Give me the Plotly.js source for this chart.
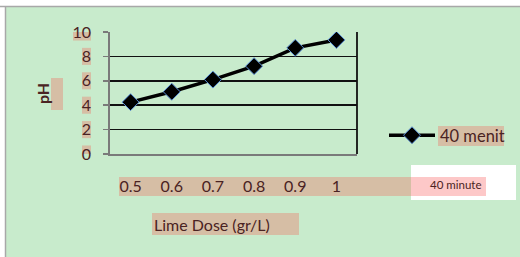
<!DOCTYPE html>
<html>
<head>
<meta charset="utf-8">
<script src="https://cdn.plot.ly/plotly-3.0.1.min.js"></script>
<style>html,body{margin:0;padding:0;background:#fff;}#chart{width:520px;height:257px;}</style>
</head>
<body>
<div id="chart"></div>
<script>
// ---- data ----
const limeDose = [0.5, 0.6, 0.7, 0.8, 0.9, 1];
const pH40 = [4.25, 5.1, 6.1, 7.2, 8.7, 9.35];
const seriesName = "40 menit";
const yTicks = [0, 2, 4, 6, 8, 10];
const xTitle = "Lime Dose (gr/L)";
const yTitle = "pH";
const boxNote = "40 minute";

// ---- geometry helpers (pixel -> paper) ----
const W = 520, H = 257;
const L = 110, R = 357, T = 32, B = 154;
const px = x => (x - L) / (R - L);
const py = y => (B - y) / (B - T);

const txt = "#4a2323";
const tan = "#d6bea5";
const green = "#c8ebcc";

const shapes = [];
function rect(x0, y0, x1, y1, fill, layer) {
  shapes.push({type: "rect", xref: "paper", yref: "paper", x0: px(x0), x1: px(x1), y0: py(y1), y1: py(y0),
    fillcolor: fill, line: {width: 0}, layer: layer || "below"});
}
// background frame
rect(6, 7, 520, 257, green);
shapes.push({type: "line", xref: "paper", yref: "paper", x0: px(0), x1: px(520), y0: py(6.5), y1: py(6.5), line: {color: "#a8a8a8", width: 1.5}, layer: "below"});
shapes.push({type: "line", xref: "paper", yref: "paper", x0: px(5.5), x1: px(5.5), y0: py(6.5), y1: py(257), line: {color: "#a8a8a8", width: 1.5}, layer: "below"});
// y tick label boxes
yTicks.forEach(v => {
  const wide = String(v).length > 1;
  shapes.push({type: "rect", xref: "paper", yref: "y", x0: px(wide ? 73 : 82), x1: px(91), y0: v - 0.7, y1: v + 0.7,
    fillcolor: tan, line: {width: 0}, layer: "below"});
});
// pH box
rect(51, 78, 63, 110, tan);
// x label band, white note box, pink overlap
rect(119, 177, 411, 196, tan);
rect(411, 165, 516, 200, "#ffffff");
rect(411, 177, 486, 196, "#fdc8c8");
// x title box
rect(152, 213, 299, 235, tan);
// legend text box
rect(438, 126, 504, 146, tan);
// right frame
shapes.push({type: "line", xref: "paper", yref: "paper", x0: 1, x1: 1, y0: 0, y1: 1, line: {color: "#111", width: 1.8}, layer: "above"});

const trace = {
  x: limeDose, y: pH40, name: seriesName, type: "scatter", mode: "lines+markers",
  line: {color: "#000", width: 3.5},
  marker: {symbol: "diamond", size: 13, color: "#000", line: {color: "#5b8fd6", width: 1}}
};

const layout = {
  width: W, height: H,
  margin: {l: L, r: W - R, t: T, b: H - B, pad: 0, autoexpand: false},
  paper_bgcolor: "#ffffff", plot_bgcolor: "rgba(0,0,0,0)",
  font: {family: "Lato, 'Open Sans', sans-serif", size: 16, color: txt},
  showlegend: true,
  legend: {x: px(384), xanchor: "left", y: py(118), yanchor: "top", bgcolor: "rgba(0,0,0,0)",
    font: {size: 16.5, color: txt}, itemwidth: 46, tracegroupgap: 0},
  xaxis: {range: [0.45, 1.05], tickvals: limeDose, ticktext: limeDose.map(String), showgrid: false, zeroline: false,
    showline: true, linecolor: "#7a7a7a", linewidth: 1.8, ticks: "", ticklabelstandoff: 17,
    tickfont: {size: 16, color: txt}, fixedrange: true},
  yaxis: {range: [0, 10], tickvals: yTicks, showgrid: true, gridcolor: "#111", gridwidth: 1.6, zeroline: false,
    showline: true, linecolor: "#7a7a7a", linewidth: 1.8, ticks: "outside", ticklen: 5, tickwidth: 1.6, tickcolor: "#7a7a7a",
    ticklabelstandoff: 9, tickfont: {size: 16, color: txt}, fixedrange: true},
  shapes: shapes,
  annotations: [
    {xref: "paper", yref: "paper", x: px(152), y: py(224), xanchor: "left", yanchor: "middle", text: xTitle, showarrow: false, font: {size: 16, color: txt}},
    {xref: "paper", yref: "paper", x: px(42), y: py(94), xanchor: "center", yanchor: "middle", text: "<b>" + yTitle + "</b>", textangle: -90, showarrow: false, font: {size: 16, color: txt}},
    {xref: "paper", yref: "paper", x: px(456), y: py(184), xanchor: "center", yanchor: "middle", text: boxNote, showarrow: false, font: {size: 11.5, color: txt}}
  ]
};

Plotly.newPlot("chart", [trace], layout, {displayModeBar: false, staticPlot: true});
</script>
</body>
</html>
